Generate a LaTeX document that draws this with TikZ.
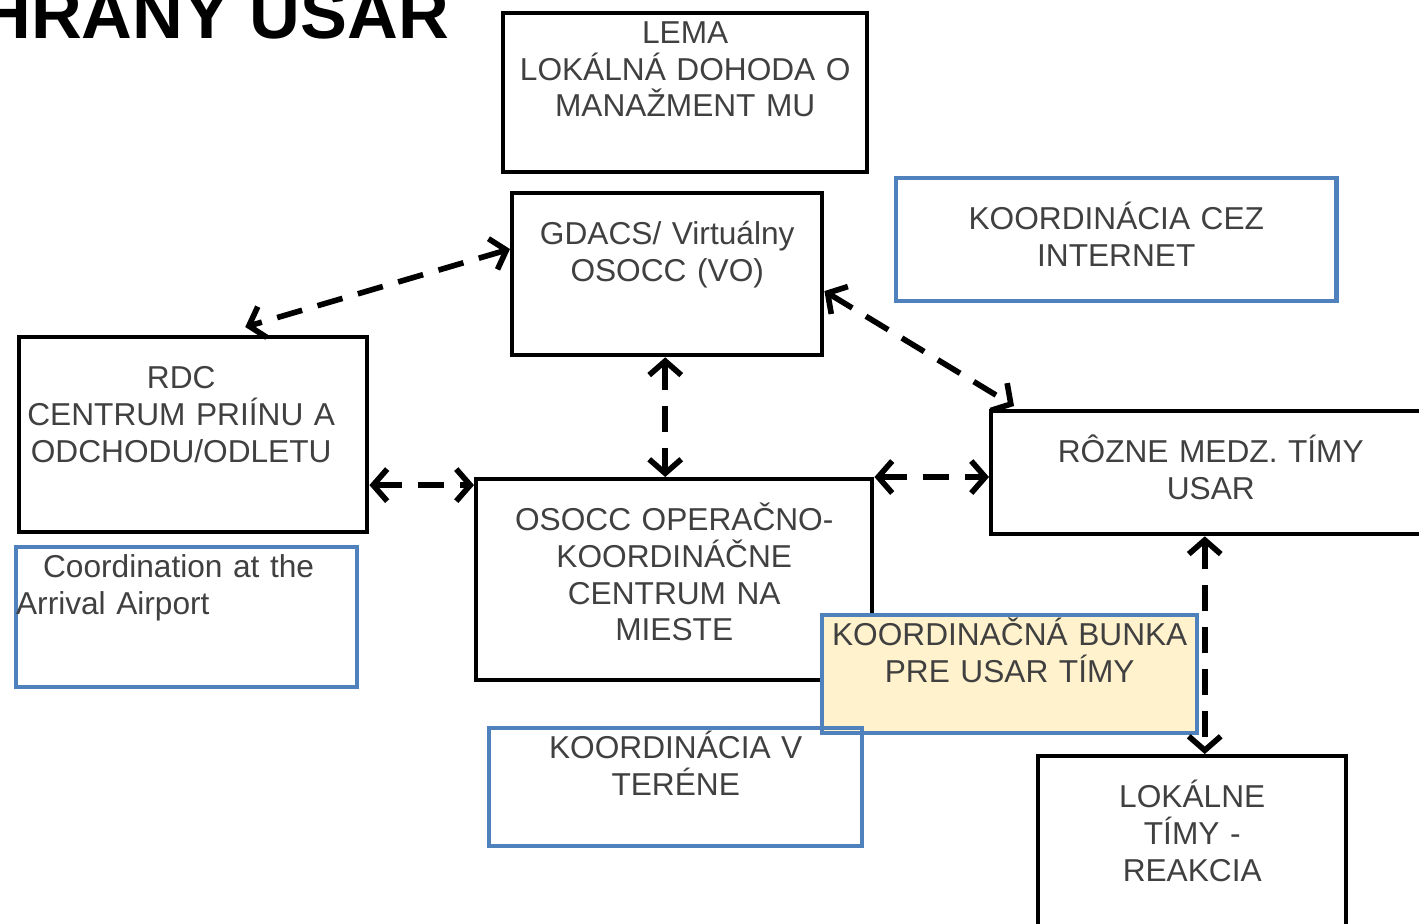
\documentclass[tikz,border=0pt]{standalone}
\usepackage{fontspec}
\setmainfont{Liberation Sans}
\usetikzlibrary{arrows.meta}

\definecolor{boxblue}{HTML}{4F81BD}
\definecolor{cellfill}{HTML}{FFF2CC}
\definecolor{txtgray}{HTML}{404040}

\begin{document}
\begin{tikzpicture}[x=0.01cm, y=-0.01cm,
    box/.style={draw=black, line width=1.2pt, anchor=north west, align=center, inner xsep=0pt, inner ysep=0.09cm,
      text height=0.42cm, text=txtgray, font=\fontsize{9pt}{10.5pt}\selectfont},
    topbox/.style={box, text height=0.21cm},
    blue/.style={draw=boxblue},
    link/.style={line width=1.6pt, dash pattern=on 0.26cm off 0.16cm,
      {Straight Barb[length=0.14cm, width=0.32cm]}-{Straight Barb[length=0.14cm, width=0.32cm]}}]
  \useasboundingbox (0,0) rectangle (1419,923);
  \clip (0,0) rectangle (1419,923);

  \node[anchor=base east, inner sep=0pt, font=\fontsize{20pt}{24pt}\selectfont\bfseries] (title) at (450,38) {HRANY USAR};

  \node[topbox, text width=3.64cm, text depth=1.20cm] (lema) at (501,11) {LEMA\\LOKÁLNÁ DOHODA O\\MANAŽMENT MU};
  \node[box, text width=3.10cm, text depth=1.02cm] (gdacs) at (510,191) {GDACS/ Virtuálny\\OSOCC (VO)};
  \node[box, blue, text width=4.40cm, text depth=0.63cm] (internet) at (894,176) {KOORDINÁCIA CEZ\\INTERNET};
  \node[box, text width=3.48cm, text depth=1.35cm] (rdc) at (17,335) {RDC\rule{0.24cm}{0pt}\\CENTRUM PRIÍNU A\rule{0.24cm}{0pt}\\ODCHODU/ODLETU\rule{0.24cm}{0pt}};
  \node[topbox, blue, align=left, text width=3.41cm, text depth=1.01cm] (airport) at (14,545) {\hspace*{0.27cm}Coordination at the\\Arrival Airport};
  \node[box, text width=3.96cm, text depth=1.41cm] (osocc) at (474,477) {OSOCC OPERAČNO-\\KOORDINÁČNE\\CENTRUM NA\\MIESTE};
  \node[box, text width=4.39cm, text depth=0.63cm] (teams) at (989,409) {RÔZNE MEDZ. TÍMY\\USAR};
  \node[topbox, blue, fill=cellfill, text width=3.75cm, text depth=0.79cm] (cell) at (820,613) {KOORDINAČNÁ BUNKA\\PRE USAR TÍMY};
  \node[topbox, blue, text width=3.73cm, text depth=0.79cm] (field) at (487,726) {KOORDINÁCIA V\\TERÉNE};
  \node[box, text width=3.08cm, text depth=1.14cm] (local) at (1036,754) {LOKÁLNE\\TÍMY -\\REAKCIA};

  \draw[link] ([yshift=-0.58cm]gdacs.north west) -- ([xshift=0.52cm, yshift=0.08cm]rdc.north);
  \draw[link] ([yshift=-1.00cm]gdacs.north east) -- ([xshift=0.25cm, yshift=0.03cm]teams.north west);
  \draw[link] ([xshift=-0.02cm]gdacs.south) -- ([xshift=-0.02cm]gdacs.south |- osocc.north);
  \draw[link] ([yshift=-1.50cm]rdc.north east) -- ([yshift=-1.50cm]rdc.north east -| osocc.west);
  \draw[link] (osocc.north east) -- (osocc.north east -| teams.west);
  \draw[link] ([xshift=-0.06cm]teams.south) -- ([xshift=-0.06cm]teams.south |- local.north);
\end{tikzpicture}
\end{document}
